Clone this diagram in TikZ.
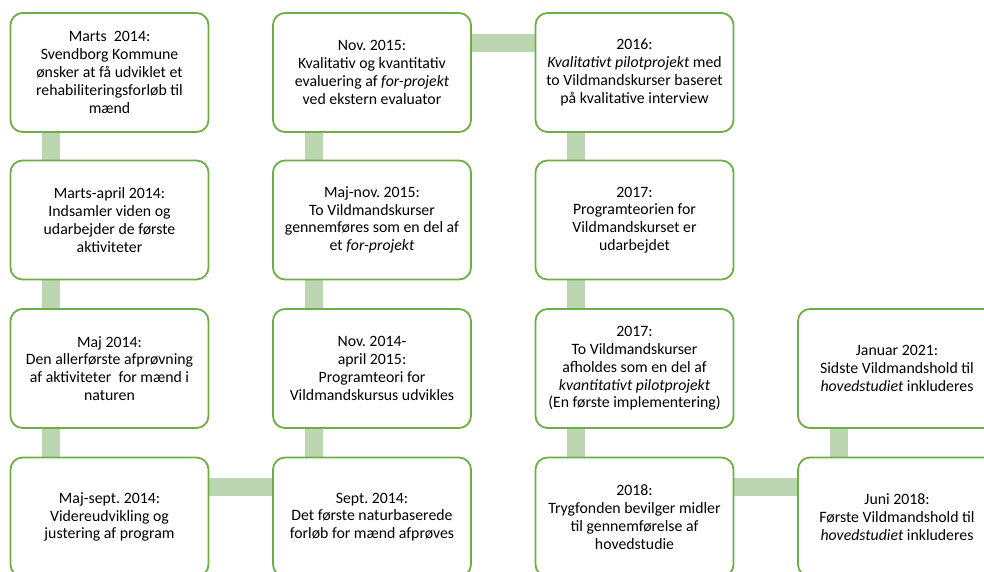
\documentclass[tikz,border=0pt]{standalone}
\usepackage{fontspec}
\setmainfont{Carlito}
\usetikzlibrary{backgrounds}
\definecolor{boxgreen}{RGB}{112,173,71}
\definecolor{conngreen}{RGB}{189,214,178}
\frenchspacing
\begin{document}
\begin{tikzpicture}[x=1pt,y=1pt,
  ev/.style={draw=boxgreen, line width=1.8pt, fill=white, rounded corners=12pt,
    minimum width=198pt, minimum height=119pt, align=center, inner sep=2pt,
    font=\fontsize{15.8}{17.8}\selectfont},
  conn/.style={draw=conngreen, line width=18pt}]
\clip (0,0) rectangle (984,-571);
% nodes
\node[ev] (a1) at (109.5,-72.5) {Marts\ \ 2014:\\Svendborg Kommune\\ønsker at få udviklet et\\rehabiliteringsforløb til\\mænd};
\node[ev] (a2) at (109.5,-220) {Marts-april 2014:\\Indsamler viden og\\udarbejder de første\\aktiviteter};
\node[ev] (a3) at (109.5,-368.5) {Maj 2014:\\Den allerførste afprøvning\\af aktiviteter\ \ for mænd i\\naturen};
\node[ev] (a4) at (109.5,-517) {Maj-sept. 2014:\\Videreudvikling og\\justering af program};
\node[ev] (b1) at (372,-72.5) {Nov. 2015:\\Kvalitativ og kvantitativ\\evaluering af \textit{for-projekt}\\ved ekstern evaluator};
\node[ev] (b2) at (372,-220) {Maj-nov. 2015:\\To Vildmandskurser\\gennemføres som en del af\\et \textit{for-projekt}};
\node[ev] (b3) at (372,-368.5) {Nov. 2014-\\april 2015:\\Programteori for\\Vildmandskursus udvikles};
\node[ev] (b4) at (372,-517) {Sept. 2014:\\Det første naturbaserede\\forløb for mænd afprøves};
\node[ev] (c1) at (634.5,-72.5) {2016:\\\textit{Kvalitativt pilotprojekt} med\\to Vildmandskurser baseret\\på kvalitative interview};
\node[ev] (c2) at (634.5,-220) {2017:\\Programteorien for\\Vildmandskurset er\\udarbejdet};
\node[ev] (c3) at (634.5,-368.5) {2017:\\To Vildmandskurser\\afholdes som en del af\\\textit{kvantitativt pilotprojekt}\\(En første implementering)};
\node[ev] (c4) at (634.5,-517) {2018:\\Trygfonden bevilger midler\\til gennemførelse af\\hovedstudie};
\node[ev] (d3) at (897,-368.5) {Januar 2021:\\Sidste Vildmandshold til\\\textit{hovedstudiet} inkluderes};
\node[ev] (d4) at (897,-517) {Juni 2018:\\Første Vildmandshold til\\\textit{hovedstudiet} inkluderes};
% connectors (behind boxes)
\begin{scope}[on background layer]
\fill[white] (0,0) rectangle (984,-571);
\foreach \u/\v in {a1/a2,a2/a3,a3/a4,b1/b2,b2/b3,b3/b4,c1/c2,c2/c3,c3/c4,d3/d4}
  \draw[conn] ([xshift=-58.5pt]\u.center) -- ([xshift=-58.5pt]\v.center);
\foreach \u/\v in {a4/b4,b1/c1,c4/d4}
  \draw[conn] ([yshift=30pt]\u.center) -- ([yshift=30pt]\v.center);
\end{scope}
\end{tikzpicture}
\end{document}
